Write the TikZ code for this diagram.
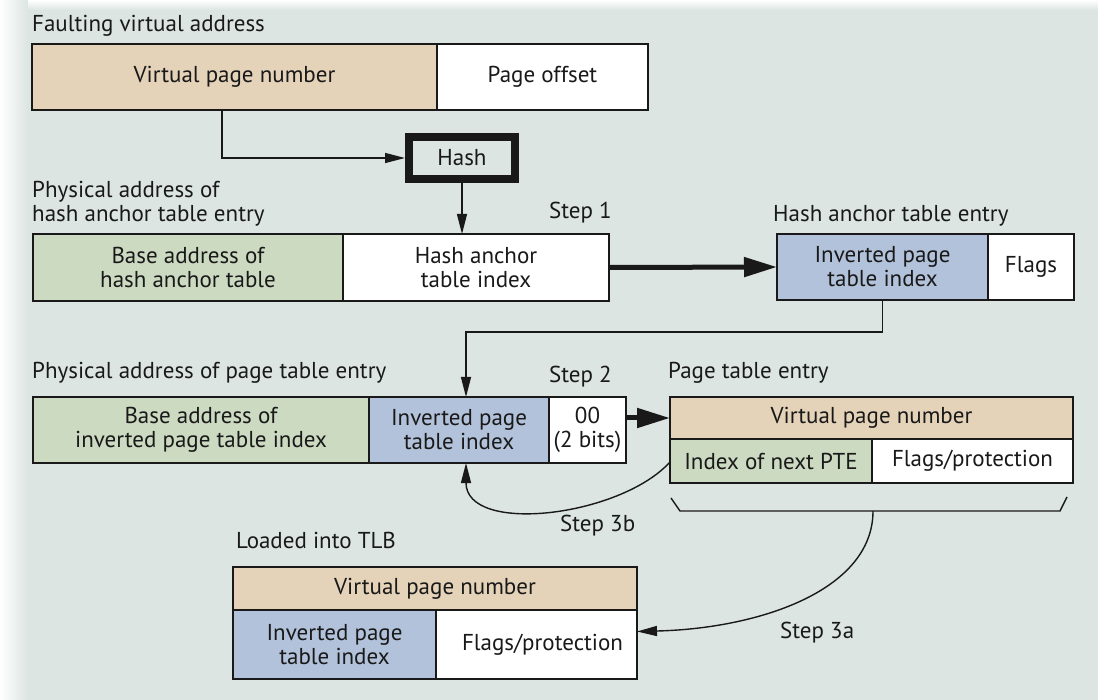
\documentclass[tikz,border=0pt]{standalone}
\usepackage{fontspec}
\setmainfont{PT Sans}
\usetikzlibrary{arrows.meta,calc}
\definecolor{bgc}{RGB}{220,229,225}
\definecolor{beige}{RGB}{229,211,185}
\definecolor{greenc}{RGB}{205,218,194}
\definecolor{bluec}{RGB}{178,194,218}
\definecolor{ink}{RGB}{25,25,25}
\begin{document}
\begin{tikzpicture}[x=1pt,y=-1pt,
  every node/.style={font=\fontsize{23}{24}\selectfont, text=ink},
  cell/.style={draw=ink, line width=1.7pt, anchor=north west, inner sep=0pt, outer sep=0pt, align=center},
  lbl/.style={anchor=base west, inner sep=0pt, align=left},
  arr/.style={draw=ink, line width=1.4pt, -{Triangle[length=20pt,width=10pt]}},
  bigarr/.style={draw=ink, line width=5pt, -{Triangle[length=33pt,width=19pt]}},
  brk/.style={draw=ink, line width=1.4pt}]
\useasboundingbox (0,0) rectangle (1098,700);
\fill[bgc] (0,0) rectangle (1098,700);
\shade[left color=white, right color=bgc] (0,0) rectangle (28,700);
\shade[top color=white, bottom color=bgc] (28,0) rectangle (1098,10);

% row 1
\node[lbl] (lfva) at (32,32) {Faulting virtual address};
\node[cell, fill=beige, minimum width=405pt, minimum height=66pt] (vpn) at (32,44) {Virtual page number};
\node[cell, fill=white, minimum width=211pt, minimum height=66pt] (poff) at (437,44) {Page offset};
\node[draw=ink, line width=8pt, minimum width=106pt, minimum height=42pt, inner sep=0pt] (hash) at (462,158) {Hash};

% row 2
\node[lbl] (lpha) at (32,222) {Physical address of\\hash anchor table entry};
\node[lbl] (s1) at (549,219) {Step 1};
\node[cell, fill=greenc, minimum width=310pt, minimum height=67pt] (base1) at (33,234) {Base address of\\hash anchor table};
\node[cell, fill=white, minimum width=266pt, minimum height=67pt] (haidx) at (343,234) {Hash anchor\\table index};
\node[lbl] (lhate) at (773,222) {Hash anchor table entry};
\node[cell, fill=bluec, minimum width=211pt, minimum height=66pt] (hipt) at (777,234) {Inverted page\\table index};
\node[cell, fill=white, minimum width=86pt, minimum height=66pt] (hflags) at (988,234) {Flags};

% row 3
\node[lbl] (lppte) at (32,379) {Physical address of page table entry};
\node[lbl] (s2) at (549,383) {Step 2};
\node[cell, fill=greenc, minimum width=336pt, minimum height=66pt] (base2) at (33,397) {Base address of\\inverted page table index};
\node[cell, fill=bluec, minimum width=180pt, minimum height=66pt] (ipt2) at (369,397) {Inverted page\\table index};
\node[cell, fill=white, minimum width=77pt, minimum height=66pt] (zero) at (549,397) {00\\(2 bits)};
\node[lbl] (lpte) at (668,379) {Page table entry};
\node[cell, fill=beige, minimum width=403pt, minimum height=42pt] (pvpn) at (670,397) {Virtual page number};
\node[cell, fill=greenc, minimum width=202pt, minimum height=44pt] (pnext) at (670,439) {Index of next PTE};
\node[cell, fill=white, minimum width=201pt, minimum height=44pt] (pflags) at (872,439) {Flags/protection};

% row 4
\node[lbl] (s3b) at (560,531) {Step 3b};
\node[lbl] (ltlb) at (236,548) {Loaded into TLB};
\node[lbl] (s3a) at (780,638) {Step 3a};
\node[cell, fill=beige, minimum width=404pt, minimum height=43pt] (tvpn) at (233,567) {Virtual page number};
\node[cell, fill=bluec, minimum width=203pt, minimum height=69pt] (tipt) at (233,610) {Inverted page\\table index};
\node[cell, fill=white, minimum width=201pt, minimum height=69pt] (tflags) at (436,610) {\hspace*{12pt}Flags/protection};

% connectors
\draw[arr] ([xshift=190pt]vpn.south west) |- (hash.west);
\draw[arr] (hash.south) -- (hash.south |- haidx.north);
\draw[bigarr] (haidx.east) -- (hipt.west);
\draw[arr] (hipt.south) -- ++(0,32) -| ([xshift=7pt]ipt2.north);
\draw[bigarr] (zero.east |- pvpn.west) -- (pvpn.west);
\coordinate (brc) at ([shift={(1,28)}]pflags.south west);
\draw[brk] ([shift={(1,15)}]pnext.south west) -- ([shift={(10,28)}]pnext.south west)
  -- ([shift={(-13,28)}]pflags.south east) -- ([shift={(-6,14)}]pflags.south east);
\draw[arr] ([yshift=-1pt]pnext.west) .. controls +(-50,55) and +(0,72) .. ([xshift=7pt]ipt2.south);
\draw[arr] (brc) .. controls +(0,79) and +(123,-3) .. ([yshift=13pt]tflags.east);
\end{tikzpicture}
\end{document}
